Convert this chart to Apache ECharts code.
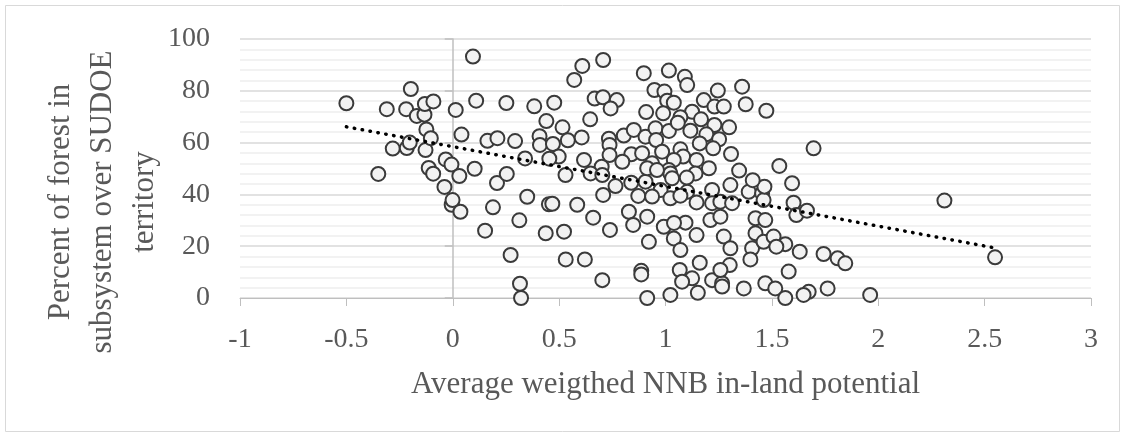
<!DOCTYPE html>
<html>
<head>
<meta charset="utf-8">
<script src="https://cdn.jsdelivr.net/npm/echarts@6/dist/echarts.min.js"></script>
<style>
html,body{margin:0;padding:0;background:#fff;}
#chart{width:1125px;height:437px;}
</style>
</head>
<body>
<div id="chart"></div>
<script>
// Average weighted NNB in-land potential (x) and percent of forest (y)
const nnbPotential = [
-0.5,-0.35,-0.31,-0.282,-0.219,-0.216,-0.202,-0.197,-0.169,-0.133,-0.131,-0.128,-0.124,-0.113,-0.103,-0.092,-0.091,-0.039,-0.033,-0.006,-0.005,-0.001,0.014,0.031,0.036,0.041,0.095,0.103,0.11,0.152,0.163,0.189,0.208,0.21,0.252,0.254,0.272,0.293,0.313,0.316,0.321,0.34,0.35,
0.707,0.609,0.571,0.898,0.383,0.477,0.667,0.706,0.771,0.742,0.909,0.44,0.646,0.516,0.408,0.41,0.471,0.541,0.606,0.498,0.454,0.617,0.734,0.737,0.804,0.851,0.906,0.839,0.797,0.89,0.7,0.737,0.53,0.648,
0.703,0.765,0.839,0.707,0.872,0.452,0.468,0.585,0.66,0.828,0.848,0.739,0.437,0.523,0.914,0.922,0.531,0.621,0.886,0.886,0.703,0.914,
1.016,1.091,1.102,1.36,0.948,0.995,1.246,1.008,1.039,1.18,1.23,1.274,1.377,1.474,0.989,1.125,1.07,1.167,1.23,1.299,0.953,1.016,1.058,1.117,1.192,1.252,0.956,1.161,1.224,1.308,0.984,1.07,1.083,0.937,1.039,1.146,1.204,1.346,1.016,
0.906,1.023,1.141,0.977,1.023,1.102,1.146,1.219,1.219,1.258,1.305,1.313,1.391,1.454,1.423,0.992,1.094,1.146,1.211,1.258,1.039,1.07,1.274,1.305,1.423,1.407,1.399,1.161,1.067,1.125,1.078,1.219,1.266,1.302,1.258,1.023,1.152,1.266,1.368,1.469,1.461,1.461,
1.696,1.535,1.595,1.465,1.602,1.615,1.665,1.469,1.508,1.563,1.521,1.631,1.743,1.809,1.845,1.579,1.516,1.563,1.673,1.649,1.762,1.962,2.311,2.549,
0.914,0.96,0.937,1.031,1.1,1.41,1.07,1.04
];
const forestPercent = [
75.2,47.9,72.9,57.7,72.9,57.9,60.0,80.7,70.3,70.8,74.9,57.1,65.1,50.2,61.7,48.0,75.9,42.9,53.5,51.5,36.0,37.8,72.6,47.1,33.3,63.1,93.2,49.9,76.2,26.0,60.7,35.0,44.4,61.7,75.3,47.9,16.6,60.6,30.0,5.5,0,53.9,39.1,
91.9,89.6,84.2,86.8,74.0,75.4,77.0,77.5,76.4,73.2,71.8,68.3,69.0,65.9,62.5,59.1,59.5,60.9,62.0,54.6,53.8,53.3,61.5,59.1,62.7,64.9,62.3,55.5,52.6,55.9,50.7,55.2,47.5,48.1,
47.5,43.2,44.5,39.8,39.4,36.2,36.4,36.0,31.0,33.3,28.2,26.3,25.0,25.6,31.4,21.7,14.9,14.9,10.5,9.1,6.9,0,
87.8,85.4,82.2,81.6,80.3,79.7,80.1,76.2,75.4,76.4,73.9,73.9,74.8,72.3,71.3,71.9,69.8,69.0,66.8,65.9,65.5,64.5,67.7,64.6,63.2,61.3,61.0,59.7,57.8,55.6,56.5,57.4,54.6,52.0,53.3,53.3,50.1,49.2,49.4,
44.9,48.1,48.1,41.7,38.5,41.0,36.9,41.7,36.6,37.2,43.6,36.6,41.0,40.4,30.8,27.5,29.1,24.3,30.1,31.4,23.0,18.5,23.7,19.2,25.0,19.2,14.9,13.6,10.8,7.6,6.3,6.9,5.7,12.7,10.8,1.2,2.0,4.4,3.7,5.7,37.8,21.7,
57.8,51.0,44.3,43.0,36.8,32.0,33.7,30.1,23.7,20.8,19.8,17.9,17.0,15.3,13.4,10.2,3.7,0,2.4,1.2,3.7,1.2,37.6,15.7,
50.1,49.4,39.2,46.2,46.5,45.5,39.5,29.0
];
// Linear trendline end points
const trendX = [-0.5, 2.55];
const trendY = [66.1, 19.3];

const xTicks = {min: -1, max: 3, interval: 0.5};
const yTicks = {min: 0, max: 100, interval: 20};

const points = nnbPotential.map((x, i) => [x, forestPercent[i]]);
const trend = trendX.map((x, i) => [x, trendY[i]]);

const FONT = "'Liberation Serif', 'DejaVu Serif', serif";
const TXT = '#595959';

const chart = echarts.init(document.getElementById('chart'), null, {renderer: 'canvas'});
chart.setOption({
  animation: false,
  backgroundColor: '#ffffff',
  grid: {left: 240, right: 34, top: 39, bottom: 139, containLabel: false},
  xAxis: {
    type: 'value', min: xTicks.min, max: xTicks.max, interval: xTicks.interval,
    splitLine: {show: false},
    axisLine: {show: true, onZero: false, lineStyle: {color: '#bfbfbf', width: 1}},
    axisTick: {show: true, length: 8, lineStyle: {color: '#bfbfbf'}},
    axisLabel: {margin: 28, color: TXT, fontFamily: FONT, fontSize: 28},
    name: 'Average weigthed NNB in-land potential',
    nameLocation: 'middle', nameGap: 71,
    nameTextStyle: {color: TXT, fontFamily: FONT, fontSize: 31}
  },
  yAxis: [{
    type: 'value', min: yTicks.min, max: yTicks.max, interval: yTicks.interval,
    axisLine: {show: false}, axisTick: {show: false},
    axisLabel: {margin: 30, color: TXT, fontFamily: FONT, fontSize: 28},
    splitLine: {show: true, lineStyle: {color: '#d9d9d9', width: 1.5}},
    minorTick: {show: false, splitNumber: 5},
    minorSplitLine: {show: true, lineStyle: {color: '#eeeeee', width: 1.5}}
  }, {
    type: 'value', min: yTicks.min, max: yTicks.max, interval: yTicks.interval,
    position: 'left',
    axisLine: {show: true, onZero: true, onZeroAxisIndex: 0, lineStyle: {color: '#bfbfbf', width: 1.5}},
    axisTick: {show: true, length: 8, lineStyle: {color: '#bfbfbf', width: 1.5}},
    axisLabel: {show: false},
    splitLine: {show: false}
  }],
  graphic: [{
    type: 'rect', z: -10, silent: true,
    shape: {x: 5.5, y: 5.5, width: 1114, height: 426},
    style: {fill: 'none', stroke: '#d9d9d9', lineWidth: 1}
  }, {
    type: 'text', x: 103, y: 202, rotation: Math.PI / 2,
    style: {
      text: 'Percent of forest in\nsubsystem over SUDOE\nterritory',
      fill: TXT, font: "31px 'Liberation Serif', serif",
      align: 'center', verticalAlign: 'middle', lineHeight: 42
    }
  }],
  series: [{
    type: 'scatter', yAxisIndex: 0, clip: false,
    data: points, symbol: 'circle', symbolSize: 14,
    itemStyle: {color: '#f2f2f2', borderColor: '#3a3a3a', borderWidth: 2, opacity: 1},
    z: 3
  }, {
    type: 'line', yAxisIndex: 0, data: trend, symbol: 'none', silent: true,
    lineStyle: {color: '#000000', width: 3.5, type: [0.5, 7.5], cap: 'round'},
    z: 5
  }]
});
</script>
</body>
</html>
